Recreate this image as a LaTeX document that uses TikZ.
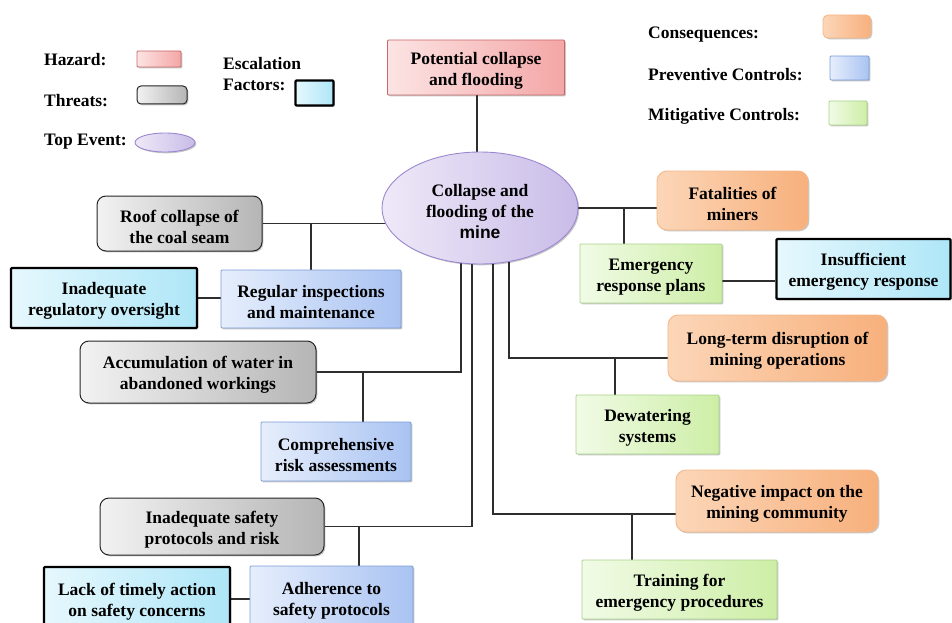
\documentclass[tikz,border=0pt]{standalone}
\usepackage{fontspec}
\setmainfont{Liberation Serif}
\newfontfamily\sansb{Liberation Sans}
\usetikzlibrary{shapes.geometric,shadows,backgrounds}
\newcommand{\tstrut}{\rule{0pt}{18.5pt}}
\definecolor{connc}{HTML}{2E2E2E}
\definecolor{hazL}{HTML}{FCE4E4}\definecolor{hazR}{HTML}{F4A6A6}\definecolor{hazB}{HTML}{C86868}
\definecolor{thrL}{HTML}{F2F2F2}\definecolor{thrR}{HTML}{B5B5B5}
\definecolor{preL}{HTML}{E6EEFC}\definecolor{preR}{HTML}{A9C3F2}\definecolor{preB}{HTML}{7C9CD4}
\definecolor{mitL}{HTML}{F1FBE6}\definecolor{mitR}{HTML}{CDEEA6}\definecolor{mitB}{HTML}{A9D38A}
\definecolor{conL}{HTML}{FCD6B8}\definecolor{conR}{HTML}{F7B07C}\definecolor{conB}{HTML}{F3B88A}
\definecolor{escL}{HTML}{E6F8FD}\definecolor{escR}{HTML}{AEE6F7}
\definecolor{topL}{HTML}{EEE9F8}\definecolor{topR}{HTML}{C9BCE8}\definecolor{topB}{HTML}{9C88CF}
\begin{document}
\begin{tikzpicture}[x=1pt,y=-1pt,
  txt/.style={font=\fontsize{17.5}{21}\selectfont\bfseries},
  base/.style={txt, align=center, inner sep=0pt,
    drop shadow={shadow xshift=1.3pt,shadow yshift=-1.3pt,opacity=0.22,fill=black}},
  hazard/.style={base, draw=hazB, line width=0.8pt, left color=hazL, right color=hazR, rounded corners=1pt},
  threat/.style={base, draw=black!85, line width=1pt, left color=thrL, right color=thrR, rounded corners=9pt},
  prev/.style={base, draw=preB, line width=0.9pt, left color=preL, right color=preR, rounded corners=1pt},
  mitig/.style={base, draw=mitB, line width=0.9pt, left color=mitL, right color=mitR, rounded corners=1pt},
  conseq/.style={base, draw=conB, line width=0.9pt, left color=conL, right color=conR, rounded corners=10pt},
  esc/.style={base, draw=black, line width=2.3pt, left color=escL, right color=escR, rounded corners=1pt},
  topev/.style={base, ellipse, draw=topB, line width=0.9pt, left color=topL, right color=topR},
  conn/.style={draw=connc, line width=1.1pt},
  legt/.style={txt, anchor=west, inner sep=0pt}
]
\useasboundingbox (0,0) rectangle (952,623);

% legend
\node[legt] (lhazt) at (44,60) {Hazard:};
\node[legt] (lthrt) at (44,101) {Threats:};
\node[legt] (ltopt) at (44,142) {Top Event:};
\node[legt] (lesct1) at (223,64) {Escalation};
\node[legt] (lesct2) at (223,85) {Factors:};
\node[legt] (lcont) at (648,35) {Consequences:};
\node[legt] (lprevt) at (648,75) {Preventive Controls:};
\node[legt] (lmitt) at (648,116) {Mitigative Controls:};

\node[hazard, minimum width=44pt, minimum height=16pt] (lhaz) at (159,59) {};
\node[threat, rounded corners=4pt, minimum width=50pt, minimum height=18pt] (lthr) at (162,95) {};
\node[topev, minimum width=60pt, minimum height=19pt] (ltop) at (165,142.5) {};
\node[esc, minimum width=38pt, minimum height=25pt] (lesc) at (314.5,93) {};
\node[conseq, rounded corners=5pt, minimum width=48pt, minimum height=23pt] (lcon) at (847,26.5) {};
\node[prev, minimum width=39pt, minimum height=24pt] (lprev) at (849.5,68) {};
\node[mitig, minimum width=38pt, minimum height=24pt] (lmit) at (848,113) {};

% main nodes
\node[hazard, minimum width=177pt, minimum height=55pt] (haz) at (476,67.5) {\tstrut Potential collapse\\and flooding};
\node[topev, minimum width=196pt, minimum height=112pt] (top) at (480,208) {\tstrut Collapse and\\flooding of the\\{\sansb\bfseries mine}};

\node[threat, minimum width=165pt, minimum height=55pt] (roof) at (179.5,223.5) {\tstrut Roof collapse of\\the coal seam};
\node[prev, minimum width=180pt, minimum height=58pt] (regins) at (311,299) {\tstrut Regular inspections\\and maintenance};
\node[esc, minimum width=186pt, minimum height=60pt] (regov) at (104,298) {\tstrut Inadequate\\regulatory oversight};
\node[threat, minimum width=236pt, minimum height=62pt] (accum) at (198,372) {\tstrut Accumulation of water in\\abandoned workings};
\node[prev, minimum width=150pt, minimum height=59pt] (comp) at (336,451.5) {\tstrut Comprehensive\\risk assessments};
\node[threat, minimum width=224pt, minimum height=57pt] (inadsafe) at (212,526.5) {\tstrut Inadequate safety\\protocols and risk};
\node[prev, minimum width=163pt, minimum height=64pt] (adher) at (331.5,598) {\tstrut Adherence to\\safety protocols};
\node[esc, minimum width=186pt, minimum height=64pt] (lack) at (137,599) {\tstrut Lack of timely action\\on safety concerns};

\node[conseq, minimum width=151pt, minimum height=59pt] (fatal) at (732.5,200.5) {\tstrut Fatalities of\\miners};
\node[mitig, minimum width=142pt, minimum height=59pt] (emerg) at (651,273.5) {\tstrut Emergency\\response plans};
\node[esc, minimum width=174pt, minimum height=60pt] (insuf) at (863.5,269) {\tstrut Insufficient\\emergency response};
\node[conseq, minimum width=219pt, minimum height=66pt] (longterm) at (777.5,348) {\tstrut Long-term disruption of\\mining operations};
\node[mitig, minimum width=143pt, minimum height=59pt] (dewater) at (647.5,424.5) {\tstrut Dewatering\\systems};
\node[conseq, minimum width=202pt, minimum height=62pt] (negimp) at (777,501) {\tstrut Negative impact on the\\mining community};
\node[mitig, minimum width=195pt, minimum height=59pt] (training) at (679.5,589.5) {\tstrut Training for\\emergency procedures};

% junction coordinates
\coordinate (jh0) at (477,0);
\coordinate (ja) at (461,372);
\coordinate (jc) at (363,372);
\coordinate (jb) at (472,526.5);
\coordinate (jd) at (359,526.5);
\coordinate (je) at (624,208);
\coordinate (jf) at (0,281);
\coordinate (jg) at (509,358);
\coordinate (jh) at (615,358);
\coordinate (ji) at (493,514);
\coordinate (jj) at (632,514);

\begin{scope}[on background layer]
\draw[conn] (jh0 |- haz.south) -- (jh0 |- top.center);
\draw[conn] (roof.east) -- (roof.east -| top.center);
\draw[conn] (regins.north) -- (regins.north |- roof.east);
\draw[conn] (regov.east) -- (regov.east -| regins.west);
\draw[conn] (accum.east) -- (ja) -- (ja |- top.center);
\draw[conn] (jc) -- (jc |- comp.north);
\draw[conn] (inadsafe.east) -- (jb) -- (jb |- top.center);
\draw[conn] (jd) -- (jd |- adher.north);
\draw[conn] (lack.east) -- (lack.east -| adher.west);
\draw[conn] (top.center) -- (top.center -| fatal.west);
\draw[conn] (je) -- (je |- emerg.north);
\draw[conn] (emerg.east |- jf) -- (insuf.west |- jf);
\draw[conn] (jg |- top.center) -- (jg) -- (jg -| longterm.west);
\draw[conn] (jh) -- (jh |- dewater.north);
\draw[conn] (ji |- top.center) -- (ji) -- (ji -| negimp.west);
\draw[conn] (jj) -- (jj |- training.north);
\end{scope}
\end{tikzpicture}
\end{document}
